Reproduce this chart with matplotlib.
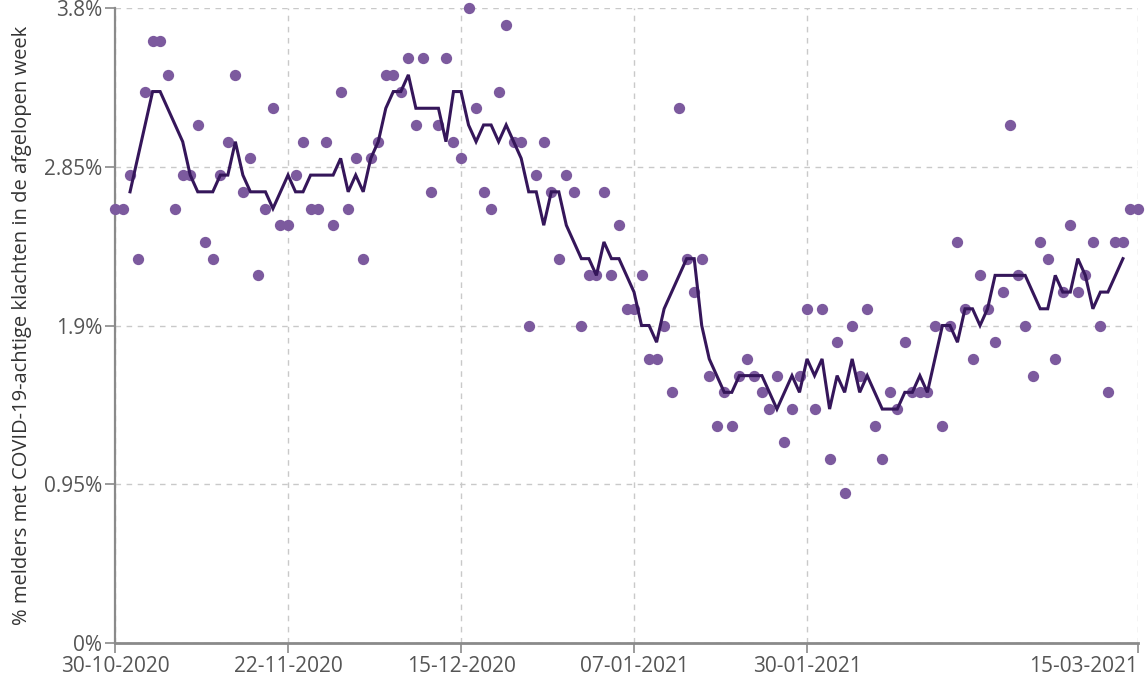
import matplotlib
matplotlib.use("Agg")
import matplotlib.pyplot as plt
import pandas as pd

plt.rcParams['font.family'] = ['Open Sans', 'DejaVu Sans']

# ---- data ----
start_date = "2020-10-30"
end_date = "2021-03-15"
dates = pd.date_range(start_date, end_date, freq="D")

daily_pct = [
    2.6, 2.6, 2.8, 2.3, 3.3, 3.6, 3.6, 3.4, 2.6, 2.8,
    2.8, 3.1, 2.4, 2.3, 2.8, 3.0, 3.4, 2.7, 2.9, 2.2,
    2.6, 3.2, 2.5, 2.5, 2.8, 3.0, 2.6, 2.6, 3.0, 2.5,
    3.3, 2.6, 2.9, 2.3, 2.9, 3.0, 3.4, 3.4, 3.3, 3.5,
    3.1, 3.5, 2.7, 3.1, 3.5, 3.0, 2.9, 3.8, 3.2, 2.7,
    2.6, 3.3, 3.7, 3.0, 3.0, 1.9, 2.8, 3.0, 2.7, 2.3,
    2.8, 2.7, 1.9, 2.2, 2.2, 2.7, 2.2, 2.5, 2.0, 2.0,
    2.2, 1.7, 1.7, 1.9, 1.5, 3.2, 2.3, 2.1, 2.3, 1.6,
    1.3, 1.5, 1.3, 1.6, 1.7, 1.6, 1.5, 1.4, 1.6, 1.2,
    1.4, 1.6, 2.0, 1.4, 2.0, 1.1, 1.8, 0.9, 1.9, 1.6,
    2.0, 1.3, 1.1, 1.5, 1.4, 1.8, 1.5, 1.5, 1.5, 1.9,
    1.3, 1.9, 2.4, 2.0, 1.7, 2.2, 2.0, 1.8, 2.1, 3.1,
    2.2, 1.9, 1.6, 2.4, 2.3, 1.7, 2.1, 2.5, 2.1, 2.2,
    2.4, 1.9, 1.5, 2.4, 2.4, 2.6, 2.6,
]

avg_start_date = "2020-11-01"
avg_pct = [
    2.7, 2.9, 3.1, 3.3, 3.3, 3.2, 3.1, 3.0, 2.8, 2.7,
    2.7, 2.7, 2.8, 2.8, 3.0, 2.8, 2.7, 2.7, 2.7, 2.6,
    2.7, 2.8, 2.7, 2.7, 2.8, 2.8, 2.8, 2.8, 2.9, 2.7,
    2.8, 2.7, 2.9, 3.0, 3.2, 3.3, 3.3, 3.4, 3.2, 3.2,
    3.2, 3.2, 3.0, 3.3, 3.3, 3.1, 3.0, 3.1, 3.1, 3.0,
    3.1, 3.0, 2.9, 2.7, 2.7, 2.5, 2.7, 2.7, 2.5, 2.4,
    2.3, 2.3, 2.2, 2.4, 2.3, 2.3, 2.2, 2.1, 1.9, 1.9,
    1.8, 2.0, 2.1, 2.2, 2.3, 2.3, 1.9, 1.7, 1.6, 1.5,
    1.5, 1.6, 1.6, 1.6, 1.6, 1.5, 1.4, 1.5, 1.6, 1.5,
    1.7, 1.6, 1.7, 1.4, 1.6, 1.5, 1.7, 1.5, 1.6, 1.5,
    1.4, 1.4, 1.4, 1.5, 1.5, 1.6, 1.5, 1.7, 1.9, 1.9,
    1.8, 2.0, 2.0, 1.9, 2.0, 2.2, 2.2, 2.2, 2.2, 2.2,
    2.1, 2.0, 2.0, 2.2, 2.1, 2.1, 2.3, 2.2, 2.0, 2.1,
    2.1, 2.2, 2.3,
]
avg_dates = pd.date_range(avg_start_date, periods=len(avg_pct), freq="D")

tick_dates = ["2020-10-30", "2020-11-22", "2020-12-15",
              "2021-01-07", "2021-01-30", "2021-03-15"]
tick_labels = ["30-10-2020", "22-11-2020", "15-12-2020",
               "07-01-2021", "30-01-2021", "15-03-2021"]
y_ticks = [0, 0.95, 1.9, 2.85, 3.8]
y_tick_labels = ["0%", "0.95%", "1.9%", "2.85%", "3.8%"]
y_label = "% melders met COVID-19-achtige klachten in de afgelopen week"

# ---- styling ----
dot_color = "#7c5a9e"
line_color = "#35165a"
grid_color = "#c9c9c9"
spine_color = "#8a8a8a"
label_color = "#555555"

W, H = 1145, 680
fig = plt.figure(figsize=(W / 100, H / 100), dpi=100)
ax = fig.add_axes([115 / W, 37 / H, 1023 / W, 635 / H])

ax.scatter(dates, daily_pct, s=66, color=dot_color, linewidths=0,
           zorder=3, clip_on=False)
ax.plot(avg_dates, avg_pct, color=line_color, lw=2.2, zorder=4,
        solid_joinstyle="miter")

ax.set_xlim(dates[0], dates[-1])
ax.set_ylim(0, 3.8)

ax.set_xticks(pd.to_datetime(tick_dates))
ax.set_xticklabels(tick_labels)
ax.set_yticks(y_ticks)
ax.set_yticklabels(y_tick_labels)

ax.grid(True, ls=(0, (4, 4)), color=grid_color, lw=1.0, zorder=0)
ax.set_axisbelow(True)

for side in ("top", "right"):
    ax.spines[side].set_visible(False)
ax.spines["left"].set_color(spine_color)
ax.spines["left"].set_linewidth(1.6)
ax.spines["bottom"].set_color(spine_color)
ax.spines["bottom"].set_linewidth(2.0)

ax.tick_params(axis="both", direction="out", length=7, width=1.2,
               color=spine_color, labelsize=15, labelcolor=label_color)
ax.tick_params(axis="x", pad=2)
ax.tick_params(axis="y", pad=2)

xt = ax.get_xticklabels()
xt[-1].set_ha("right")

fig.text(22 / W, 1 - 325 / H, y_label, rotation=90, ha="center",
         va="center", fontsize=14.5, color="#333333")

fig.savefig("out.png", dpi=100)
